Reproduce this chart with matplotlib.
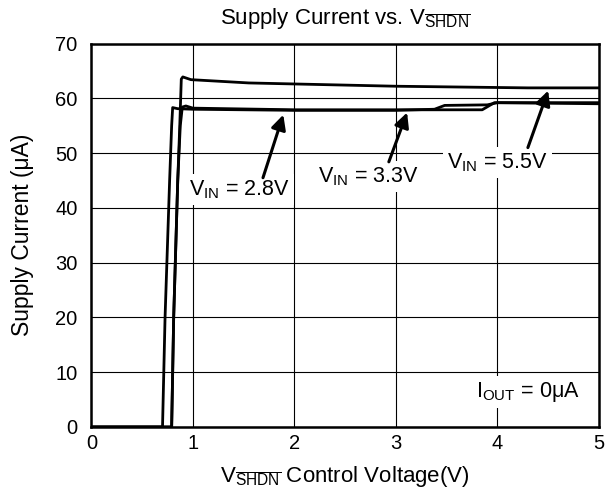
import matplotlib.pyplot as plt
import numpy as np

plt.rcParams['font.family'] = ['Liberation Sans', 'DejaVu Sans']
plt.rcParams['mathtext.fontset'] = 'custom'
plt.rcParams['mathtext.rm'] = 'Liberation Sans'
plt.rcParams['mathtext.it'] = 'Liberation Sans'

# V_IN = 5.5V
x_55 = [0, 0.79, 0.81, 0.85, 0.87, 0.885, 0.90, 0.98, 1.55, 3.0, 4.3, 5.0]
y_55 = [0, 0, 20, 45, 55, 63.5, 63.9, 63.4, 62.8, 62.2, 61.9, 61.9]

# V_IN = 3.3V
x_33 = [0, 0.79, 0.81, 0.85, 0.875, 0.895, 0.93, 1.0, 2.0, 3.0, 3.85, 3.97, 5.0]
y_33 = [0, 0, 20, 45, 55, 58.4, 58.6, 58.2, 57.9, 57.9, 57.9, 59.2, 59.0]

# V_IN = 2.8V
x_28 = [0, 0.70, 0.725, 0.77, 0.79, 0.80, 0.85, 1.0, 2.0, 3.0, 3.38, 3.48, 3.90, 4.0, 5.0]
y_28 = [0, 0, 20, 45, 55, 58.3, 58.1, 58.0, 57.8, 57.8, 58.0, 58.7, 58.8, 59.2, 59.2]

fig = plt.figure(figsize=(6.07, 5.0), dpi=100)
ax = fig.add_axes([0.1507, 0.146, 0.836, 0.767])

for xs, ys in [(x_28, y_28), (x_33, y_33), (x_55, y_55)]:
    ax.plot(xs, ys, color='black', lw=2.0, zorder=3)

ax.set_xlim(0, 5)
ax.set_ylim(0, 70)
ax.set_xticks(np.arange(0, 6, 1))
ax.set_yticks(np.arange(0, 80, 10))
ax.grid(True, color='black', lw=0.8)
ax.tick_params(length=0, labelsize=14.5)
ax.tick_params(axis='y', pad=10)
ax.tick_params(axis='x', pad=5)
for s in ax.spines.values():
    s.set_linewidth(1.8)
    s.set_zorder(4)

ax.set_title(r'Supply Current vs. V$_{\overline{\mathrm{SHDN}}}$', fontsize=16, pad=14)
ax.set_ylabel('Supply Current (μA)', fontsize=16.5, labelpad=15)
ax.set_xlabel(r'V$_{\overline{\mathrm{SHDN}}}$ Control Voltage(V)', fontsize=16, labelpad=8)

box = dict(facecolor='white', edgecolor='none', pad=3)
arrow = dict(arrowstyle='-|>', color='black', lw=2.2, mutation_scale=22, shrinkA=0, shrinkB=0)

ax.text(1.46, 43.3, r'V$_{\mathrm{IN}}$ = 2.8V', fontsize=15.5, ha='center', va='center', bbox=box, zorder=5)
ax.annotate('', xy=(1.89, 57.0), xytext=(1.69, 45.5), arrowprops=arrow, zorder=5)

ax.text(2.73, 45.7, r'V$_{\mathrm{IN}}$ = 3.3V', fontsize=15.5, ha='center', va='center', bbox=box, zorder=5)
ax.annotate('', xy=(3.11, 57.4), xytext=(2.93, 48.4), arrowprops=arrow, zorder=5)

ax.text(4.0, 48.3, r'V$_{\mathrm{IN}}$ = 5.5V', fontsize=15.5, ha='center', va='center', bbox=box, zorder=5)
ax.annotate('', xy=(4.50, 61.4), xytext=(4.30, 51.0), arrowprops=arrow, zorder=5)

ax.text(4.30, 6.4, r'I$_{\mathrm{OUT}}$ = 0μA', fontsize=15.5, ha='center', va='center', bbox=box, zorder=5)

fig.savefig('out.png', dpi=100)
